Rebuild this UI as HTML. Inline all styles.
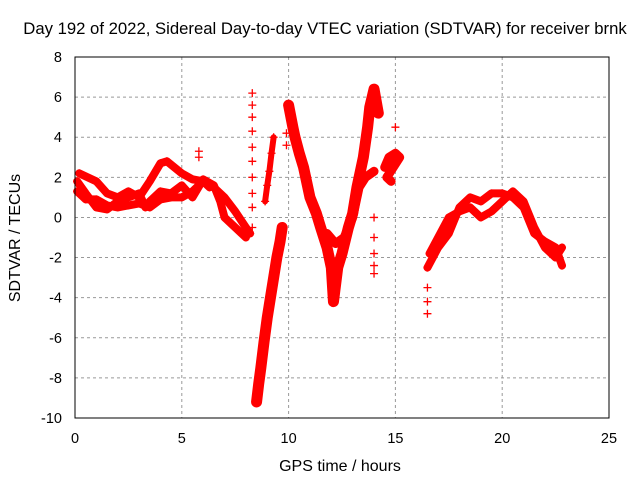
<!DOCTYPE html>
<html><head><meta charset="utf-8"><style>
body{margin:0;background:#fff}
svg text{font-family:"Liberation Sans",sans-serif;fill:#000}
</style></head><body>
<svg id="chart" width="640" height="480">
<text x="325" y="34" font-size="16.7" text-anchor="middle">Day 192 of 2022, Sidereal Day-to-day VTEC variation (SDTVAR) for receiver brnk</text>
<text x="340" y="471" font-size="16" text-anchor="middle">GPS time / hours</text>
<text transform="translate(20,238) rotate(-90)" font-size="16" text-anchor="middle">SDTVAR / TECUs</text>
<g id="grid"></g><g id="data"></g>
<rect x="75" y="57" width="534" height="361" fill="none" stroke="#000"/>
</svg>
<script>
const xTicks=[0,5,10,15,20,25];
const yTicks=[-10,-8,-6,-4,-2,0,2,4,6,8];
const trackA=[[0.2,2.2],[1,1.8],[1.5,1.2],[2,1.0],[2.5,1.3],[3,1.0],[3.5,1.8],[4,2.7],[4.3,2.8],[5,2.2],[5.5,1.9],[6,1.8],[6.5,1.5],[7,1.0],[7.5,0.3],[8,-0.5],[8.2,-0.8]];
const trackB=[[0.1,1.3],[0.5,0.9],[1,0.9],[1.5,0.6],[2,0.5],[2.5,0.6],[3,0.7],[3.5,0.5],[4,0.9],[4.5,1.0],[5,1.0],[5.5,1.3],[6,1.8],[6.3,1.5]];
const trackC=[[0.1,1.8],[0.5,1.2],[1,0.5],[1.5,0.4],[2,0.8],[2.5,1.0],[3,1.2],[3.3,0.5],[3.5,0.8],[4,1.3],[4.5,1.2],[5,1.6],[5.5,1.0],[6,1.9],[6.5,1.6],[6.8,0.8],[7,0],[7.5,-0.5],[8,-1.0]];
const trackDip=[[8.5,-9.2],[8.6,-8.3],[8.7,-7.5],[8.85,-6.2],[9,-5],[9.15,-4],[9.3,-3],[9.45,-2],[9.6,-1.2],[9.7,-0.5]];
const trackRise=[[8.9,0.8],[9.0,1.6],[9.1,2.3],[9.2,3.2],[9.3,4.0]];
const trackV=[[10,5.6],[10.2,4.5],[10.3,4],[10.5,3.2],[10.7,2.5],[11,1],[11.3,0.2],[11.5,-0.5],[11.8,-1.5],[12,-2.5],[12.1,-4.2],[12.3,-2.5],[12.5,-1.8],[12.8,-0.5],[13,0.2],[13.2,1.5],[13.5,3],[13.7,4.5],[13.8,5.5],[14,6.4],[14.2,5.2]];
const trackV2=[[11.8,-0.8],[12.2,-1.3],[12.6,-1.0],[13,0],[13.3,1.5],[13.6,2.0],[14,2.3]];
const trackE=[[14.5,2.5],[14.7,3.0],[15,3.2],[15.2,3.0],[14.6,2.0],[14.8,1.8]];
const trackF=[[16.5,-2.5],[17,-1.5],[17.5,-0.8],[18,0.5],[18.5,1],[19,0.8],[19.5,1.2],[20,1.2],[20.5,1.0],[21,0.5],[21.5,-0.8],[22,-1.2],[22.5,-1.5],[22.8,-2.4]];
const trackG=[[16.6,-1.8],[17,-1],[17.5,0],[18,0.3],[18.5,0.5],[19,0],[19.5,0.3],[20,0.8],[20.5,1.3],[21,0.8],[21.5,-0.5],[22,-1.5],[22.5,-2],[22.8,-1.5]];
const sparse=[[8.3,6.2],[8.3,5.6],[8.3,5.0],[8.3,4.3],[8.3,3.5],[8.3,2.8],[8.3,2.0],[8.3,1.2],[8.3,0.5],[8.3,-0.5],[15,4.5],[14.0,0],[14.0,-1.0],[14.0,-1.8],[14.0,-2.4],[14.0,-2.8],[16.5,-3.5],[16.5,-4.2],[16.5,-4.8],[5.8,3.3],[5.8,3.0],[9.9,4.2],[9.9,3.6]];
const tracks=[trackA,trackB,trackC,trackDip,trackRise,trackV,trackV2,trackE,trackF,trackG];
const widths=[8,8,8,11,6,11,9,9,8,8];
const X=h=>75+h*534/25, Y=v=>57+(8-v)*361/18;
const NS="http://www.w3.org/2000/svg";
const grid=document.getElementById('grid'), dg=document.getElementById('data'), svg=document.getElementById('chart');
function mk(t,a,p){const e=document.createElementNS(NS,t);for(const k in a)e.setAttribute(k,a[k]);p.appendChild(e);return e;}
xTicks.forEach(t=>{const x=X(t);
 if(t>0&&t<25){const l=mk('line',{x1:x,x2:x,y1:57,y2:418,stroke:'#999','stroke-dasharray':'3,3'},grid);}
 const tx=mk('text',{x:x,y:443,'font-size':14.5,'text-anchor':'middle'},svg);tx.textContent=t;
 });
yTicks.forEach(t=>{const y=Y(t);
 if(t>-10&&t<8){const l=mk('line',{x1:75,x2:609,y1:y,y2:y,stroke:'#999','stroke-dasharray':'3,3'},grid);}
 const tx=mk('text',{x:62,y:y+5,'font-size':14.5,'text-anchor':'end'},svg);tx.textContent=t;
 });
tracks.forEach((tr,i)=>{
 const pl=mk('polyline',{points:tr.map(p=>X(p[0])+','+Y(p[1])).join(' '),fill:'none',stroke:'#f00','stroke-width':widths[i],'stroke-linejoin':'round','stroke-linecap':'round'},dg);
 
});
tracks.concat([sparse]).forEach(tr=>tr.forEach(p=>{
 const x=X(p[0]),y=Y(p[1]);
 const m=mk('path',{d:`M${x-4},${y}h8M${x},${y-4}v8`,stroke:'#f00','stroke-width':1.3},dg);
 
}));
</script>
</body></html>
